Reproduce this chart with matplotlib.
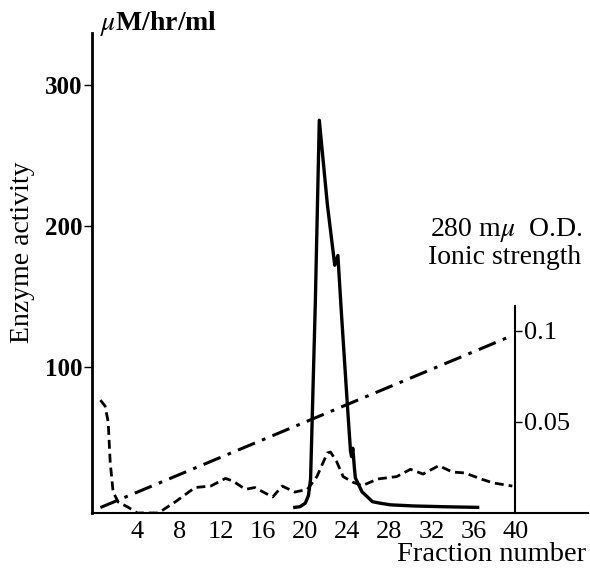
import numpy as np
import matplotlib.pyplot as plt

# Enzyme activity (uM/hr/ml) - solid line, left axis
enz_fraction = [19.0, 19.5, 20.0, 20.3, 20.5, 20.95, 21.33, 22.1, 22.8, 23.1, 23.4,
                24.0, 24.3, 24.4, 24.52, 24.67, 24.76, 25.4, 26.4, 27.1, 28.1, 30.3, 33.5, 36.4]
enzyme = [0, 0.5, 3, 8.5, 20, 145, 275, 215, 172, 179, 142,
          73, 40, 36, 42, 28, 21, 11, 4, 3, 1.8, 1.0, 0.4, 0]

# 280 mu O.D. - dashed line, right axis
od_fraction = [0.5, 0.95, 1.24, 1.43, 1.71, 2.2, 3.1, 4.0, 6.0, 7.6, 9.5, 11.0, 12.4, 13.1,
               14.3, 15.2, 16.0, 16.9, 17.8, 19.0, 20.2, 21.1, 22.1, 22.4, 23.0, 23.6, 24.5,
               25.4, 26.9, 28.7, 30.0, 31.2, 32.7, 34.0, 35.2, 36.7, 37.9, 39.7]
od = [0.062, 0.0587, 0.05, 0.028, 0.0115, 0.006, 0.0033, 0.0, 0.0, 0.006, 0.014, 0.0148,
      0.019, 0.0176, 0.013, 0.014, 0.0115, 0.0088, 0.0148, 0.0115, 0.013, 0.02, 0.033,
      0.0335, 0.028, 0.02, 0.017, 0.015, 0.0187, 0.02, 0.024, 0.0214, 0.026, 0.0225,
      0.022, 0.0187, 0.0165, 0.0148]

# Ionic strength - dash-dot line, right axis (linear gradient)
ionic_fraction = [0.5, 39.5]
ionic = [0.003, 0.097]

x_ticks = [4, 8, 12, 16, 20, 24, 28, 32, 36, 40]
y_ticks = [100, 200, 300]
right_ticks = [0.05, 0.1]
right_labels = ['0.05', '0.1']

serif = ['Liberation Serif', 'DejaVu Serif']
plt.rcParams['mathtext.fontset'] = 'stix'

fig = plt.figure(figsize=(5.9, 5.71), dpi=100)
ax = fig.add_axes([92 / 590, 58 / 571, (588 - 92) / 590, 480 / 571])
ax2 = ax.twinx()

ax.plot(enz_fraction, enzyme, color='black', lw=2.4, solid_joinstyle='round')
ax2.plot(od_fraction, od, color='black', lw=2.0, dashes=(3.2, 1.8))
ax2.plot(ionic_fraction, ionic, color='black', lw=2.2, dashes=(6, 2.5, 1.2, 2.5))

ax.set_xlim(-0.3, 46.9)
ax.set_ylim(-4, 337)
ax2.set_ylim(0, 0.2637)

# left axis
for s in ['top', 'right']:
    ax.spines[s].set_visible(False)
ax.spines['left'].set_linewidth(2)
ax.spines['bottom'].set_linewidth(1.5)
ax.set_xticks(x_ticks)
ax.set_xticklabels([str(v) for v in x_ticks], family=serif, fontsize=19)
ax.tick_params(axis='x', length=0, pad=6)
ax.set_yticks(y_ticks)
ax.set_yticklabels([str(v) for v in y_ticks], family=serif, fontsize=18,
                   fontweight='bold')
ax.tick_params(axis='y', length=6, width=1, pad=1, direction='out')

# right axis drawn at fraction 40
for s in ['top', 'left', 'bottom']:
    ax2.spines[s].set_visible(False)
ax2.spines['right'].set_position(('data', 40))
ax2.spines['right'].set_bounds(0, 0.1137)
ax2.spines['right'].set_linewidth(1.5)
ax2.set_yticks(right_ticks)
ax2.set_yticklabels(right_labels, family=serif, fontsize=19)
ax2.tick_params(axis='y', length=5, width=1, pad=1, direction='out')

fig.text(100 / 590, 1 - 24 / 571, r'$\mu$M/hr/ml', family=serif, fontsize=20,
         fontweight='bold', va='center', ha='left')
fig.text(23 / 590, 1 - 252 / 571, 'Enzyme activity', family=serif, fontsize=20,
         rotation=90, va='center', ha='center')
fig.text(430 / 590, 1 - 230 / 571, r'280 m$\mu$  O.D.', family=serif, fontsize=20,
         va='center', ha='left')
fig.text(428 / 590, 1 - 258 / 571, 'Ionic strength', family=serif, fontsize=20,
         va='center', ha='left')
fig.text(586 / 590, 4 / 571, 'Fraction number', family=serif, fontsize=20.5,
         va='bottom', ha='right')

fig.savefig('out.png', dpi=100, facecolor='white')
